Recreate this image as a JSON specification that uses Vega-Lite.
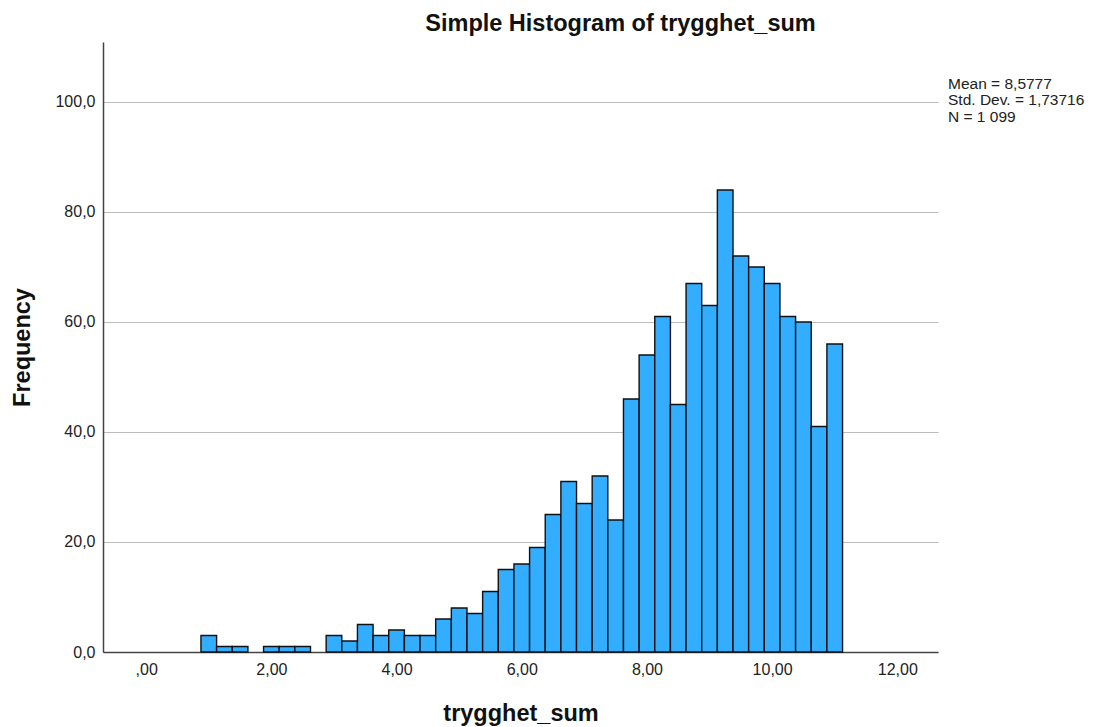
{
  "$schema": "https://vega.github.io/schema/vega-lite/v6.json",
  "width": 835,
  "height": 610,
  "autosize": {"type": "none"},
  "padding": {"left": 103, "top": 42, "right": 156, "bottom": 75},
  "background": "white",
  "title": {
    "text": "Simple Histogram of trygghet_sum",
    "font": "Liberation Sans",
    "fontSize": 23.5,
    "fontWeight": "bold",
    "color": "#111111",
    "anchor": "middle",
    "frame": "group",
    "dx": 100,
    "dy": 24,
    "baseline": "alphabetic",
    "offset": 12
  },
  "config": {
    "view": {"stroke": null},
    "font": "Liberation Sans"
  },
  "layer": [
    {
      "data": {
        "values": [
          {"bin_start": 0.875, "bin_end": 1.125, "count": 3},
          {"bin_start": 1.125, "bin_end": 1.375, "count": 1},
          {"bin_start": 1.375, "bin_end": 1.625, "count": 1},
          {"bin_start": 1.875, "bin_end": 2.125, "count": 1},
          {"bin_start": 2.125, "bin_end": 2.375, "count": 1},
          {"bin_start": 2.375, "bin_end": 2.625, "count": 1},
          {"bin_start": 2.875, "bin_end": 3.125, "count": 3},
          {"bin_start": 3.125, "bin_end": 3.375, "count": 2},
          {"bin_start": 3.375, "bin_end": 3.625, "count": 5},
          {"bin_start": 3.625, "bin_end": 3.875, "count": 3},
          {"bin_start": 3.875, "bin_end": 4.125, "count": 4},
          {"bin_start": 4.125, "bin_end": 4.375, "count": 3},
          {"bin_start": 4.375, "bin_end": 4.625, "count": 3},
          {"bin_start": 4.625, "bin_end": 4.875, "count": 6},
          {"bin_start": 4.875, "bin_end": 5.125, "count": 8},
          {"bin_start": 5.125, "bin_end": 5.375, "count": 7},
          {"bin_start": 5.375, "bin_end": 5.625, "count": 11},
          {"bin_start": 5.625, "bin_end": 5.875, "count": 15},
          {"bin_start": 5.875, "bin_end": 6.125, "count": 16},
          {"bin_start": 6.125, "bin_end": 6.375, "count": 19},
          {"bin_start": 6.375, "bin_end": 6.625, "count": 25},
          {"bin_start": 6.625, "bin_end": 6.875, "count": 31},
          {"bin_start": 6.875, "bin_end": 7.125, "count": 27},
          {"bin_start": 7.125, "bin_end": 7.375, "count": 32},
          {"bin_start": 7.375, "bin_end": 7.625, "count": 24},
          {"bin_start": 7.625, "bin_end": 7.875, "count": 46},
          {"bin_start": 7.875, "bin_end": 8.125, "count": 54},
          {"bin_start": 8.125, "bin_end": 8.375, "count": 61},
          {"bin_start": 8.375, "bin_end": 8.625, "count": 45},
          {"bin_start": 8.625, "bin_end": 8.875, "count": 67},
          {"bin_start": 8.875, "bin_end": 9.125, "count": 63},
          {"bin_start": 9.125, "bin_end": 9.375, "count": 84},
          {"bin_start": 9.375, "bin_end": 9.625, "count": 72},
          {"bin_start": 9.625, "bin_end": 9.875, "count": 70},
          {"bin_start": 9.875, "bin_end": 10.125, "count": 67},
          {"bin_start": 10.125, "bin_end": 10.375, "count": 61},
          {"bin_start": 10.375, "bin_end": 10.625, "count": 60},
          {"bin_start": 10.625, "bin_end": 10.875, "count": 41},
          {"bin_start": 10.875, "bin_end": 11.125, "count": 56}
        ]
      },
      "mark": {"type": "rect", "fill": "#33adff", "stroke": "#111111", "strokeWidth": 1.4},
      "encoding": {
        "x": {
          "field": "bin_start",
          "type": "quantitative",
          "scale": {"domain": [-0.69, 12.65], "nice": false, "zero": false},
          "axis": {
            "title": "trygghet_sum",
            "values": [0, 2, 4, 6, 8, 10, 12],
            "labelExpr": "datum.value == 0 ? ',00' : replace(format(datum.value, '.2f'), '.', ',')",
            "labelFont": "Liberation Sans",
            "labelFontSize": 16,
            "labelColor": "#222222",
            "labelPadding": 9,
            "ticks": false,
            "grid": false,
            "domainColor": "#444444",
            "domainWidth": 1.5,
            "titleFont": "Liberation Sans",
            "titleFontSize": 23.5,
            "titleFontWeight": "bold",
            "titleColor": "#111111",
            "titleX": 417.5,
            "titleY": 61,
            "titleBaseline": "middle",
            "titleAlign": "center"
          }
        },
        "x2": {"field": "bin_end"},
        "y": {
          "field": "count",
          "type": "quantitative",
          "scale": {"domain": [0, 110.9], "nice": false},
          "axis": {
            "title": "Frequency",
            "values": [0, 20, 40, 60, 80, 100],
            "labelExpr": "replace(format(datum.value, '.1f'), '.', ',')",
            "labelFont": "Liberation Sans",
            "labelFontSize": 16,
            "labelColor": "#222222",
            "labelPadding": 8,
            "ticks": false,
            "grid": true,
            "gridColor": "#bcbcbc",
            "gridWidth": 1.2,
            "domainColor": "#444444",
            "domainWidth": 1.5,
            "titleFont": "Liberation Sans",
            "titleFontSize": 23.5,
            "titleFontWeight": "bold",
            "titleColor": "#111111",
            "titleAngle": 270,
            "titleX": -81,
            "titleY": 305,
            "titleBaseline": "middle",
            "titleAlign": "center"
          }
        },
        "y2": {"datum": 0}
      }
    },
    {
      "data": {
        "values": [
          {"lines": ["Mean = 8,5777", "Std. Dev. = 1,73716", "N = 1 099"]}
        ]
      },
      "mark": {
        "type": "text",
        "align": "left",
        "baseline": "top",
        "font": "Liberation Sans",
        "fontSize": 15.5,
        "lineHeight": 16.3,
        "color": "#222222"
      },
      "encoding": {
        "text": {"field": "lines"},
        "x": {"datum": 12.81},
        "y": {"datum": 104.5}
      }
    }
  ]
}
